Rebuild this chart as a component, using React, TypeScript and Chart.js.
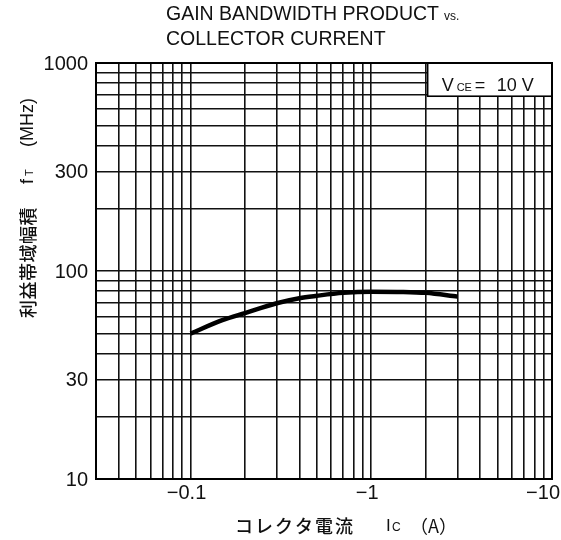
import React, { useEffect, useRef } from "react";
import { Chart, registerables } from "chart.js";

Chart.register(...registerables);

// Data (collector current magnitude in A, gain bandwidth product in MHz)
const currentA = [0.1, 0.15, 0.2, 0.3, 0.4, 0.5, 0.7, 1, 1.5, 2, 3];
const ftMHz = [50, 58, 62.8, 70, 74, 76, 78.5, 79.5, 79.3, 78.5, 75.3];

// Axes
const xMin = 0.03;
const xMax = 10;
const yMin = 10;
const yMax = 1000;
const xTickValues = [0.1, 1, 10];
const xTickLabels = ["\u22120.1", "\u22121", "\u221210"];
const yTickValues = [10, 30, 100, 300, 1000];
const yTickLabels = ["10", "30", "100", "300", "1000"];
const mantissas = [1, 2, 3, 4, 5, 6, 7, 8, 9];
const xDecades = [0.01, 0.1, 1, 10];
const yDecades = [10, 100, 1000];

const titleLine1 = "GAIN BANDWIDTH PRODUCT";
const titleVs = "vs.";
const titleLine2 = "COLLECTOR CURRENT";
const xTitleJa = "コレクタ電流";
const yTitleJa = "利益帯域幅積";

const gridVals = (decs: number[], lo: number, hi: number) => {
  const out: number[] = [];
  decs.forEach((d) =>
    mantissas.forEach((m) => {
      const v = +(d * m).toPrecision(6);
      if (v >= lo * 0.999 && v <= hi * 1.001) out.push(v);
    })
  );
  return Array.from(new Set(out)).sort((a, b) => a - b);
};

const LATIN = '"Liberation Sans", Arial, sans-serif';
const CJK = '"Noto Sans CJK JP", sans-serif';

const annotPlugin = {
  id: "annot",
  afterDraw(chart: any) {
    const { ctx, chartArea: a, scales } = chart;
    const x = scales.x;
    const y = scales.y;
    ctx.save();

    // legend box V_CE = 10 V
    const bx = x.getPixelForValue(2) + 2;
    const by = a.top;
    const bw = a.right - bx;
    const bh = y.getPixelForValue(700) - a.top + 1;
    ctx.fillStyle = "#fff";
    ctx.fillRect(bx, by, bw, bh);
    ctx.strokeStyle = "#000";
    ctx.lineWidth = 1.6;
    ctx.strokeRect(bx, by, bw, bh);
    ctx.fillStyle = "#111";
    ctx.textBaseline = "alphabetic";
    ctx.textAlign = "left";
    const base = by + 28;
    ctx.font = `18px ${LATIN}`;
    ctx.fillText("V", bx + 14, base);
    ctx.font = `11px ${LATIN}`;
    ctx.fillText("CE", bx + 29, base);
    ctx.font = `18px ${LATIN}`;
    ctx.fillText("=", bx + 47, base);
    ctx.fillText("10 V", bx + 69, base);

    // frame
    ctx.strokeStyle = "#000";
    ctx.lineWidth = 2;
    ctx.strokeRect(a.left, a.top, a.right - a.left, a.bottom - a.top);

    // y tick labels
    ctx.font = `20px ${LATIN}`;
    ctx.textAlign = "right";
    ctx.textBaseline = "middle";
    ctx.fillStyle = "#111";
    yTickValues.forEach((v, i) => {
      ctx.fillText(yTickLabels[i], a.left - 8, y.getPixelForValue(v) + 1);
    });

    // x tick labels
    ctx.textBaseline = "middle";
    xTickValues.forEach((v, i) => {
      const px = x.getPixelForValue(v);
      if (i === xTickValues.length - 1) {
        ctx.textAlign = "right";
        ctx.fillText(xTickLabels[i], chart.width - 1, a.bottom + 14);
      } else {
        ctx.textAlign = "center";
        ctx.fillText(xTickLabels[i], px - 4, a.bottom + 14);
      }
    });

    // title
    ctx.textAlign = "left";
    ctx.textBaseline = "alphabetic";
    ctx.font = `19.5px ${LATIN}`;
    ctx.fillText(titleLine1, 166, 20);
    ctx.font = `12px ${LATIN}`;
    ctx.fillText(titleVs, 444, 20);
    ctx.font = `19.5px ${LATIN}`;
    ctx.fillText(titleLine2, 166, 45);

    // x title
    ctx.textBaseline = "middle";
    ctx.font = `500 18px ${CJK}`;
    let cx = 235;
    const cy = 526;
    for (const ch of xTitleJa) {
      ctx.fillText(ch, cx, cy);
      cx += 20;
    }
    ctx.font = `17px ${LATIN}`;
    ctx.fillText("I", 386, cy);
    ctx.font = `12px ${LATIN}`;
    ctx.fillText("C", 392, cy + 2);
    ctx.font = `18px ${CJK}`;
    ctx.fillText("（A）", 410, cy);

    // y title (rotated)
    ctx.save();
    ctx.translate(28, 0);
    ctx.rotate(-Math.PI / 2);
    ctx.textBaseline = "middle";
    ctx.textAlign = "left";
    ctx.font = `500 18px ${CJK}`;
    let ty = -318;
    for (const ch of yTitleJa) {
      ctx.fillText(ch, ty, 0);
      ty += 18.5;
    }
    ctx.font = `18px ${LATIN}`;
    ctx.fillText("f", -184, 0);
    ctx.font = `11px ${LATIN}`;
    ctx.fillText("T", -176, 2);
    ctx.font = `18px ${LATIN}`;
    ctx.fillText("(MHz)", -147, 0);
    ctx.restore();

    ctx.restore();
  },
};

export default function App() {
  const ref = useRef<HTMLCanvasElement>(null);
  useEffect(() => {
    if (!ref.current) return;
    const xGrid = gridVals(xDecades, xMin, xMax);
    const yGrid = gridVals(yDecades, yMin, yMax);
    const chart = new Chart(ref.current, {
      type: "line",
      data: {
        datasets: [
          {
            data: currentA.map((c, i) => ({ x: c, y: ftMHz[i] })),
            borderColor: "#000",
            borderWidth: 4.5,
            pointRadius: 0,
            cubicInterpolationMode: "monotone",
            fill: false,
          },
        ],
      },
      options: {
        animation: false,
        responsive: true,
        maintainAspectRatio: false,
        layout: { padding: { left: 96, right: 9, top: 63, bottom: 61 } },
        plugins: { legend: { display: false }, tooltip: { enabled: false }, title: { display: false } },
        scales: {
          x: {
            type: "logarithmic",
            min: xMin,
            max: xMax,
            afterBuildTicks: (s: any) => {
              s.ticks = xGrid.map((v) => ({ value: v }));
            },
            ticks: { display: false },
            grid: { color: "#111", lineWidth: 1.6, drawTicks: false },
            border: { display: false },
          },
          y: {
            type: "logarithmic",
            min: yMin,
            max: yMax,
            afterBuildTicks: (s: any) => {
              s.ticks = yGrid.map((v) => ({ value: v }));
            },
            ticks: { display: false },
            grid: { color: "#111", lineWidth: 1.6, drawTicks: false },
            border: { display: false },
          },
        },
      },
      plugins: [annotPlugin],
    } as any);
    return () => chart.destroy();
  }, []);
  return (
    <div style={{ position: "fixed", left: 0, top: 0, width: 561, height: 540, background: "#fff" }}>
      <canvas ref={ref} />
    </div>
  );
}
